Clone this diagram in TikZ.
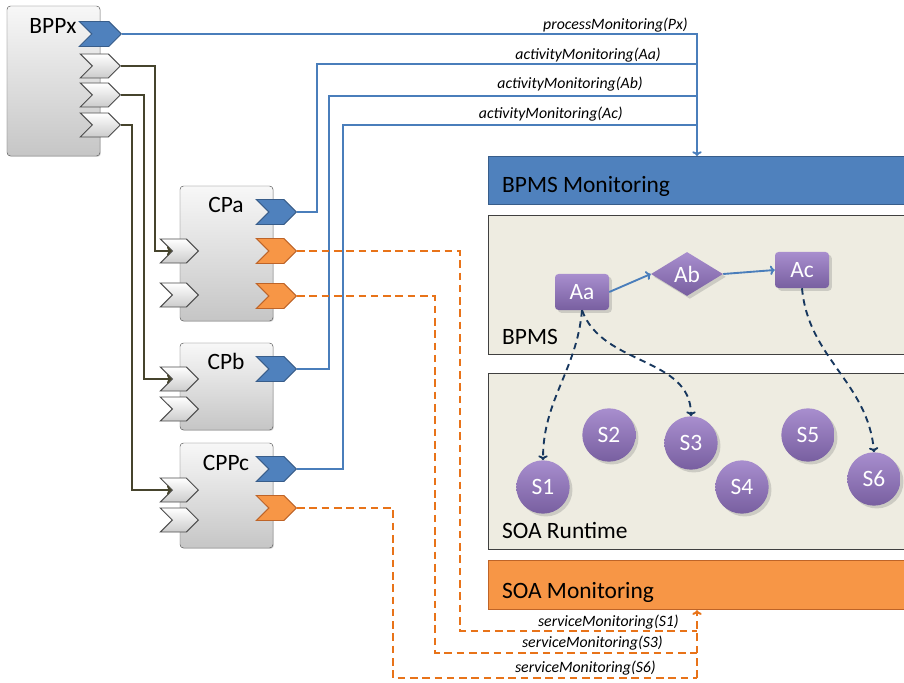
\documentclass[tikz,border=0pt]{standalone}
\usepackage{fontspec}
\setmainfont{Carlito}
\usetikzlibrary{shapes.symbols,shapes.geometric,shadows,calc,arrows.meta}

\definecolor{monblue}{RGB}{79,129,189}
\definecolor{monblueD}{RGB}{56,93,138}
\definecolor{lineblue}{RGB}{74,126,187}
\definecolor{soaorange}{RGB}{247,150,70}
\definecolor{soaorangeD}{RGB}{190,100,40}
\definecolor{svcline}{RGB}{232,115,25}
\definecolor{beige}{RGB}{238,236,225}
\definecolor{boxedge}{RGB}{64,64,64}
\definecolor{purpleL}{RGB}{168,142,206}
\definecolor{purpleD}{RGB}{120,95,160}
\definecolor{navy}{RGB}{23,55,94}
\definecolor{ctrlolive}{RGB}{70,68,45}

\begin{document}
\begin{tikzpicture}[x=0.03cm,y=-0.03cm, >={To[length=4pt,width=8pt]},
  big/.style={font=\fontsize{20}{24}\selectfont},
  call/.style={font=\fontsize{13.5}{15}\selectfont\itshape, inner sep=0pt},
  procbox/.style={draw=gray!70!black, rounded corners=3pt, top color=gray!6, bottom color=gray!45,
    minimum width=2.79cm, drop shadow={opacity=0.3,shadow xshift=0.8pt,shadow yshift=-0.8pt}},
  port/.style={signal, signal to=east, signal from=west, inner sep=0pt,
    minimum width=1.2cm, minimum height=0.75cm, line width=0.8pt},
  grayport/.style={port, draw=gray!60!black, top color=white, bottom color=gray!40},
  blueport/.style={port, draw=monblueD, fill=monblue},
  orangeport/.style={port, draw=soaorangeD, fill=soaorange},
  bar/.style={anchor=north west, minimum width=12.66cm, inner sep=0pt, line width=1pt},
  activity/.style={rounded corners=3pt, top color=purpleL, bottom color=purpleD, text=white, big,
    minimum width=1.62cm, minimum height=1.08cm, drop shadow={opacity=0.3}},
  service/.style={circle, top color=purpleL, bottom color=purpleD, text=white, big,
    minimum size=1.6cm, inner sep=0pt, drop shadow={opacity=0.3}},
  ctrl/.style={draw=ctrlolive, line width=1.6pt, ->},
  mon/.style={draw=lineblue, line width=1.6pt},
  svc/.style={draw=svcline, line width=1.7pt, dash pattern=on 6.5pt off 4pt},
  dep/.style={draw=navy, line width=1.6pt, dash pattern=on 5.5pt off 4pt, ->}
]
\clip (0,0) rectangle (904,683);

% monitoring layers
\node[bar, draw=monblueD, fill=monblue, minimum height=1.44cm] (bpmsmon) at (488,156) {};
\node[bar, draw=boxedge, fill=beige, minimum height=4.17cm] (bpms) at (488,215) {};
\node[bar, draw=boxedge, fill=beige, minimum height=5.28cm] (soart) at (488,373) {};
\node[bar, draw=soaorangeD, fill=soaorange, minimum height=1.47cm] (soamon) at (488,560) {};
\node[big, anchor=base west] (bpmsmon-t) at (498,193) {BPMS Monitoring};
\node[big, anchor=base west] (bpms-t) at (498,344) {BPMS};
\node[big, anchor=base west] (soart-t) at (498,538) {SOA Runtime};
\node[big, anchor=base west] (soamon-t) at (498,598) {SOA Monitoring};

% process boxes
\node[procbox, minimum height=4.5cm] (bppx) at (53.5,81) {};
\node[procbox, minimum height=4.05cm] (cpa) at (226.5,253.5) {};
\node[procbox, minimum height=2.61cm] (cpb) at (226.5,386.5) {};
\node[procbox, minimum height=3.15cm] (cppc) at (226.5,495.5) {};
\node[big, anchor=base] (bppx-t) at (53,34) {BPPx};
\node[big, anchor=base] (cpa-t) at (226,213) {CPa};
\node[big, anchor=base] (cpb-t) at (226,369) {CPb};
\node[big, anchor=base] (cppc-t) at (226,470) {CPPc};

% ports
\node[blueport, minimum width=1.26cm, anchor=east] (bppx-m) at (122,34) {};
\foreach \i/\y in {1/66,2/95,3/125}
  \node[grayport, minimum height=0.72cm, anchor=east] (bppx-c\i) at (121,\y) {};
\node[blueport, anchor=east] (cpa-m) at (297,212) {};
\node[orangeport, anchor=east] (cpa-s1) at (297,251) {};
\node[orangeport, anchor=east] (cpa-s2) at (297,296) {};
\node[grayport, minimum width=1.14cm, minimum height=0.72cm, anchor=east] (cpa-i1) at (199,251) {};
\node[grayport, minimum width=1.14cm, minimum height=0.72cm, anchor=east] (cpa-i2) at (199,295) {};
\node[blueport, anchor=east] (cpb-m) at (297,369) {};
\node[grayport, minimum width=1.14cm, minimum height=0.72cm, anchor=east] (cpb-i1) at (199,379) {};
\node[grayport, minimum width=1.14cm, minimum height=0.72cm, anchor=east] (cpb-i2) at (199,409) {};
\node[blueport, anchor=east] (cppc-m) at (297,469) {};
\node[orangeport, anchor=east] (cppc-s) at (297,508) {};
\node[grayport, minimum width=1.14cm, minimum height=0.72cm, anchor=east] (cppc-i1) at (199,490) {};
\node[grayport, minimum width=1.14cm, minimum height=0.72cm, anchor=east] (cppc-i2) at (199,520) {};

% control flow BPPx -> CPs
\draw[ctrl] (bppx-c1.east) -- ++(34,0) |- (cpa-i1.west);
\draw[ctrl] (bppx-c2.east) -- ++(23,0) |- (cpb-i1.west);
\draw[ctrl] (bppx-c3.east) -- ++(11,0) |- (cppc-i1.west);

% process / activity monitoring
\coordinate (bus) at (697,34);
\draw[mon,->] (bppx-m.east) -| (bpmsmon.north -| bus);
\draw[mon] (cpa-m.east) -- ++(20,0) |- ($(bus)+(0,30)$);
\draw[mon] (cpb-m.east) -- ++(32,0) |- ($(bus)+(0,62)$);
\draw[mon] (cppc-m.east) -- ++(46,0) |- ($(bus)+(0,91)$);
\node[call, anchor=base east] (px-l) at (688,30) {processMonitoring(Px)};
\node[call, anchor=base east] (aa-l) at (661,60) {activityMonitoring(Aa)};
\node[call, anchor=base east] (ab-l) at (643,89) {activityMonitoring(Ab)};
\node[call, anchor=base east] (ac-l) at (623,119) {activityMonitoring(Ac)};

% service monitoring
\coordinate (sbus) at (697,678);
\draw[svc] (cpa-s1.east) -- ++(163,0) |- ($(sbus)+(0,-47)$);
\draw[svc] (cpa-s2.east) -- ++(138,0) |- ($(sbus)+(0,-25)$);
\draw[svc] (cppc-s.east) -- ++(96,0) |- (sbus);
\draw[svc,->] (sbus) -- (soamon.south -| sbus);
\node[call, anchor=base east] (s1-l) at (679,626) {serviceMonitoring(S1)};
\node[call, anchor=base east] (s3-l) at (663,647) {serviceMonitoring(S3)};
\node[call, anchor=base east] (s6-l) at (656,672) {serviceMonitoring(S6)};

% BPMS activities
\node[activity] (aa) at (582,292) {Aa};
\node[diamond, top color=purpleL, bottom color=purpleD, text=white, big, inner sep=0pt,
  minimum width=2.16cm, minimum height=1.32cm, drop shadow={opacity=0.3}] (ab) at (687,274) {Ab};
\node[activity] (ac) at (802,270) {Ac};
\draw[mon,->] (aa.east) -- (ab.west);
\draw[mon,->] (ab.east) -- (ac.west);

% services
\foreach \n/\x/\y in {1/543/487,2/609/435,3/691/443,4/742/487,5/808/435,6/874/479}
  \node[service] (s\n) at (\x,\y) {S\n};

\draw[dep] (aa.south) to[out=-95,in=90] (s1.north);
\draw[dep] (aa.south) to[out=-70,in=90] (s3.north);
\draw[dep] (ac.south) to[out=-85,in=95] (s6.north);
\end{tikzpicture}
\end{document}
